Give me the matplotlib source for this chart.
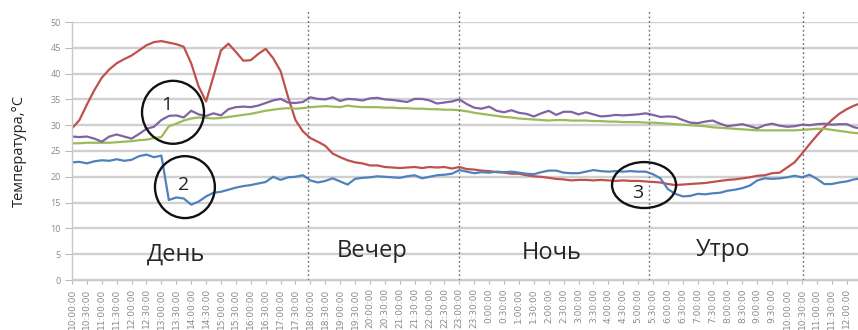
import matplotlib
matplotlib.use("Agg")
import matplotlib.pyplot as plt
from matplotlib.patches import Ellipse
import numpy as np

plt.rcParams['font.family'] = ['Open Sans', 'DejaVu Sans']

# Readings every 15 minutes starting at 10:00
step_hours = 0.25

outdoor = [29.4, 31.0, 34.0, 36.8, 39.2, 40.8, 42.0, 42.8, 43.5, 44.5,
           45.5, 46.1, 46.3, 46.0, 45.7, 45.2, 42.0, 37.5, 34.6, 39.5,
           44.5, 45.8, 44.2, 42.5, 42.6, 43.8, 44.8, 43.0, 40.5, 35.5,
           31.0, 28.8, 27.5, 26.8, 26.0, 24.5, 23.8, 23.2, 22.8, 22.6,
           22.2, 22.2, 21.9, 21.8, 21.7, 21.8, 21.9, 21.7, 21.9, 21.8,
           21.9, 21.6, 21.9, 21.5, 21.4, 21.2, 21.1, 20.9, 20.8, 20.6,
           20.6, 20.3, 20.1, 20.0, 19.8, 19.6, 19.5, 19.3, 19.4, 19.4,
           19.3, 19.4, 19.3, 19.2, 19.3, 19.2, 19.2, 19.1, 19.0, 18.9,
           18.6, 18.4, 18.5, 18.6, 18.7, 18.8, 19.0, 19.2, 19.4, 19.5,
           19.7, 19.9, 20.2, 20.3, 20.7, 20.8, 21.8, 22.8, 24.5, 26.3,
           28.0, 29.6, 31.0, 32.2, 33.1, 33.8, 34.3]

room_upper = [27.8, 27.7, 27.8, 27.4, 26.8, 27.8, 28.2, 27.8, 27.4, 28.3,
              29.3, 29.7, 31.0, 31.8, 31.9, 31.5, 32.8, 32.1, 31.8, 32.3,
              31.9, 33.1, 33.5, 33.6, 33.5, 33.8, 34.3, 34.8, 35.1, 34.4,
              34.3, 34.5, 35.4, 35.1, 35.0, 35.4, 34.7, 35.1, 35.0, 34.8,
              35.2, 35.3, 35.0, 34.9, 34.7, 34.5, 35.1, 35.1, 34.8, 34.2,
              34.4, 34.6, 35.0, 34.1, 33.4, 33.2, 33.6, 32.8, 32.5, 32.9,
              32.4, 32.2, 31.7, 32.3, 32.8, 32.0, 32.6, 32.6, 32.1, 32.5,
              32.1, 31.7, 31.8, 32.0, 31.9, 32.0, 32.1, 32.3, 32.0, 31.6,
              31.7, 31.6, 31.0, 30.5, 30.4, 30.7, 30.9, 30.3, 29.8, 30.0,
              30.2, 29.8, 29.4, 30.0, 30.3, 29.9, 29.7, 29.8, 30.1, 30.0,
              30.2, 30.3, 30.1, 30.2, 30.2, 29.6, 29.3]

room_lower = [26.5, 26.5, 26.6, 26.6, 26.6, 26.6, 26.7, 26.8, 26.9, 27.1,
              27.2, 27.5, 27.7, 29.8, 30.3, 30.9, 31.3, 31.5, 31.4, 31.3,
              31.4, 31.6, 31.8, 32.0, 32.2, 32.5, 32.8, 33.0, 33.2, 33.3,
              33.2, 33.3, 33.5, 33.6, 33.7, 33.6, 33.5, 33.8, 33.6, 33.5,
              33.5, 33.5, 33.4, 33.4, 33.3, 33.3, 33.2, 33.2, 33.1, 33.1,
              33.0, 33.0, 32.9, 32.7, 32.4, 32.2, 32.0, 31.8, 31.6, 31.5,
              31.3, 31.2, 31.1, 31.0, 30.9, 31.0, 31.0, 30.9, 30.9, 30.9,
              30.8, 30.8, 30.7, 30.7, 30.6, 30.6, 30.6, 30.5, 30.5, 30.4,
              30.3, 30.2, 30.1, 30.0, 29.9, 29.8, 29.6, 29.5, 29.4, 29.3,
              29.2, 29.1, 29.0, 29.0, 29.0, 29.0, 29.0, 29.0, 29.1, 29.2,
              29.3, 29.3, 29.1, 28.9, 28.7, 28.5, 28.4]

supply_air = [22.8, 22.9, 22.6, 23.0, 23.2, 23.1, 23.4, 23.1, 23.3, 24.0,
              24.3, 23.8, 24.1, 15.5, 16.0, 15.8, 14.6, 15.2, 16.2, 16.9,
              17.1, 17.5, 17.9, 18.2, 18.4, 18.7, 19.0, 20.0, 19.4, 19.9,
              20.0, 20.3, 19.3, 18.9, 19.2, 19.7, 19.1, 18.5, 19.6, 19.8,
              19.9, 20.1, 20.0, 19.9, 19.8, 20.1, 20.3, 19.7, 20.0, 20.3,
              20.4, 20.6, 21.3, 21.0, 20.7, 20.9, 20.8, 21.0, 20.9, 21.0,
              20.8, 20.6, 20.5, 20.9, 21.2, 21.2, 20.8, 20.7, 20.7, 21.0,
              21.3, 21.1, 21.0, 21.1, 21.0, 21.1, 21.0, 21.0, 20.5, 19.7,
              17.6, 16.7, 16.2, 16.3, 16.7, 16.6, 16.8, 16.9, 17.3, 17.5,
              17.8, 18.3, 19.3, 19.7, 19.6, 19.7, 19.9, 20.2, 19.9, 20.4,
              19.6, 18.6, 18.6, 18.9, 19.1, 19.5, 19.7]

time_labels = ["10:00:00", "10:30:00", "11:00:00", "11:30:00", "12:00:00",
               "12:30:00", "13:00:00", "13:30:00", "14:00:00", "14:30:00",
               "15:00:00", "15:30:00", "16:00:00", "16:30:00", "17:00:00",
               "17:30:00", "18:00:00", "18:30:00", "19:00:00", "19:30:00",
               "20:00:00", "20:30:00", "21:00:00", "21:30:00", "22:00:00",
               "22:30:00", "23:00:00", "23:30:00", "0:00:00", "0:30:00",
               "1:00:00", "1:30:00", "2:00:00", "2:30:00", "3:00:00",
               "3:30:00", "4:00:00", "4:30:00", "5:00:00", "5:30:00",
               "6:00:00", "6:30:00", "7:00:00", "7:30:00", "8:00:00",
               "8:30:00", "9:00:00", "9:30:00", "10:00:00", "10:30:00",
               "11:00:00", "11:30:00", "12:00:00"]
label_step_hours = 0.5

periods = ["День", "Вечер", "Ночь", "Утро"]
period_bounds = [7.92, 12.99, 19.36, 24.53]

fig = plt.figure(figsize=(8.58, 3.30), dpi=100)
ax = fig.add_axes([72 / 858, 1 - 280 / 330, 1 - 72 / 858, (280 - 22) / 330])

t = np.arange(len(outdoor)) * step_hours
series = [
    (outdoor, "#c0504d"),
    (supply_air, "#4f81bd"),
    (room_lower, "#9bbb59"),
    (room_upper, "#8064a2"),
]
for values, color in series:
    ax.plot(t, values, color=color, lw=1.6, solid_joinstyle="round")

ax.set_xlim(0, 26.38)
ax.set_ylim(0, 50)
ax.set_yticks(np.arange(0, 51, 5))
ax.yaxis.grid(True, color="#d0d0d0", lw=1.7)
ax.set_axisbelow(True)

ax.set_xticks(np.arange(len(time_labels)) * label_step_hours)
ax.set_xticklabels(time_labels, rotation=90, fontsize=6.5, color="#8a8a8a",
                   family="DejaVu Sans")
ax.tick_params(axis="x", length=3, color="#bbbbbb", pad=3)
ax.tick_params(axis="y", length=5, color="#bbbbbb", labelsize=6.5,
               labelcolor="#8a8a8a", pad=3)

for side in ("top", "right"):
    ax.spines[side].set_visible(False)
for side in ("left", "bottom"):
    ax.spines[side].set_color("#c8c8c8")
    ax.spines[side].set_linewidth(1.0)

ax.set_ylabel("Температура,°C", fontsize=10.5, color="#222222", labelpad=17)

# Dotted boundaries between parts of the day
ax.vlines(period_bounds, 0, 52.2, colors="#666666", linestyles=(0, (1.2, 2.0)),
          lw=1.0, clip_on=False)

period_pos = [(3.49, 5.0), (10.07, 5.6), (16.1, 5.3), (21.85, 5.8)]
for name, (px, py) in zip(periods, period_pos):
    ax.text(px, py, name, fontsize=17, color="#262626", ha="center", va="center")

# Marked zones
marks = [("1", (3.39, 32.5), 2.08, 12.2, (3.19, 33.9)),
         ("2", (3.79, 18.0), 2.01, 12.0, (3.76, 18.4)),
         ("3", (19.2, 18.4), 2.15, 8.9, (19.0, 16.8))]
for num, center, w, h, txt in marks:
    ax.add_patch(Ellipse(center, w, h, fill=False, ec="#111111", lw=1.7,
                         zorder=5))
    ax.text(txt[0], txt[1], num, fontsize=14, color="#222222",
            ha="center", va="center", zorder=6)

fig.savefig("out.png", dpi=100)
